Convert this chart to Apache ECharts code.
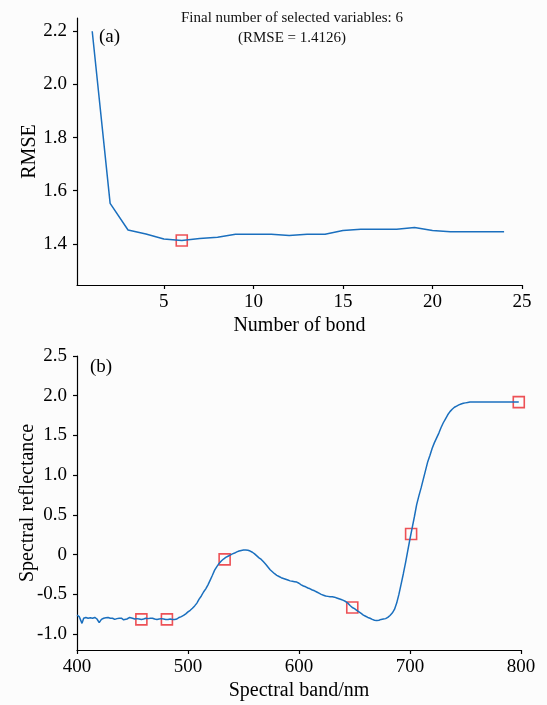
<!DOCTYPE html>
<html>
<head>
<meta charset="utf-8">
<script src="https://cdn.jsdelivr.net/npm/echarts@6/dist/echarts.min.js"></script>
<style>html,body{margin:0;padding:0;background:#fcfcfc;}#c{width:547px;height:705px;}</style>
</head>
<body>
<div id="c"></div>
<script>
// (a) RMSE vs number of bands
const bondNumbers = [1,2,3,4,5,6,7,8,9,10,11,12,13,14,15,16,17,18,19,20,21,22,23,24];
const rmseValues = [2.2,1.552,1.452,1.437,1.418,1.4126,1.42,1.425,1.436,1.436,1.436,1.431,1.436,1.436,1.45,1.455,1.455,1.455,1.461,1.45,1.445,1.445,1.445,1.445];
const selectedBond = [6];
const selectedRmse = [1.4126];
const topXTicks = [5,10,15,20,25];
const topYTicks = [1.4,1.6,1.8,2.0,2.2];

// (b) spectral curve
const wavelengths = [400,402,404.5,406,408,410,412,414,416,418,420,422,424,426,428,430,432,434,436,438,440,442,443.5,445,447.5,450,452,454,456,458,460,462,464,466,468,470,472,474,476,478,480,482,484,486,488,490,492,494,496,498,500,502,504,506,508,510,512,514,516,518,520,522,524,526,528,530,532,534,536,538,540,542,544,546,548,550,552,554,556,558,560,562,564,566,568,570,572,574,576,578,580,582,584,586,588,590,592,594,596,598,600,602,604,606,608,610,612,614,616,618,620,622,624,626,628,630,632,634,636,638,640,642,644,646,648,650,652,654,656,658,660,662,664,666,668,670,672,674,676,678,680,682,684,686,688,690,692,694,696,698,700,702,704,706,708,710,712,714,716,718,720,722,724,726,728,730,732,734,736,738,740,742,744,746,748,750,752,754,760,770,780,790,798];
const reflectance = [-0.76,-0.78,-0.865,-0.80,-0.79,-0.80,-0.795,-0.80,-0.79,-0.81,-0.855,-0.815,-0.80,-0.795,-0.79,-0.80,-0.80,-0.815,-0.805,-0.80,-0.80,-0.82,-0.83,-0.81,-0.79,-0.80,-0.81,-0.805,-0.81,-0.815,-0.81,-0.80,-0.805,-0.80,-0.80,-0.81,-0.815,-0.81,-0.805,-0.81,-0.815,-0.815,-0.81,-0.815,-0.815,-0.81,-0.79,-0.78,-0.765,-0.745,-0.72,-0.70,-0.675,-0.645,-0.61,-0.56,-0.52,-0.47,-0.43,-0.38,-0.32,-0.26,-0.195,-0.15,-0.11,-0.08,-0.055,-0.035,-0.02,-0.005,0.01,0.02,0.035,0.045,0.052,0.058,0.058,0.055,0.045,0.03,0.01,-0.015,-0.04,-0.06,-0.09,-0.12,-0.155,-0.19,-0.215,-0.24,-0.26,-0.275,-0.29,-0.30,-0.31,-0.32,-0.33,-0.335,-0.34,-0.345,-0.36,-0.38,-0.395,-0.405,-0.42,-0.43,-0.445,-0.455,-0.47,-0.485,-0.5,-0.51,-0.52,-0.525,-0.53,-0.53,-0.535,-0.545,-0.555,-0.565,-0.575,-0.59,-0.61,-0.64,-0.665,-0.68,-0.70,-0.72,-0.74,-0.76,-0.775,-0.79,-0.80,-0.815,-0.825,-0.83,-0.825,-0.815,-0.81,-0.805,-0.79,-0.765,-0.735,-0.69,-0.61,-0.50,-0.37,-0.24,-0.10,0.05,0.20,0.34,0.48,0.63,0.74,0.84,0.95,1.06,1.17,1.25,1.34,1.41,1.47,1.53,1.60,1.66,1.71,1.76,1.80,1.83,1.855,1.87,1.885,1.895,1.905,1.91,1.915,1.92,1.92,1.92,1.92,1.92,1.92];
const selectedBands = [458,481,533,648,701,798];
const selectedReflectance = [-0.815,-0.815,-0.06,-0.665,0.26,1.92];
const bottomYTicks = [-1.0,-0.5,0,0.5,1.0,1.5,2.0,2.5];

const FONT = '"Liberation Serif","Times New Roman",serif';
const LINE = '#1a6fbe';
const MARK = '#e8262c';

const zip = (a,b) => a.map((v,i)=>[v,b[i]]);

const axisCommon = {
  axisLine:{show:true,onZero:false,lineStyle:{color:'#000',width:1.2}},
  axisTick:{show:true,inside:false,length:4,lineStyle:{color:'#000',width:1.2}},
  splitLine:{show:false},
  nameTextStyle:{fontFamily:FONT,fontSize:20,color:'#000'},
  nameLocation:'middle',
  nameMoveOverlap:false
};
const labelStyle = {fontFamily:FONT,fontSize:19,color:'#000'};

const chart = echarts.init(document.getElementById('c'));
chart.setOption({
  backgroundColor:'#fcfcfc',
  animation:false,
  title:{
    text:'Final number of selected variables: 6\n(RMSE = 1.4126)',
    left:287, top:3, textAlign:'center',
    textStyle:{fontFamily:FONT,fontSize:15,fontWeight:'normal',color:'#111',lineHeight:20}
  },
  graphic:[
    {type:'text',left:99,top:28,style:{text:'(a)',font:'19px '+FONT,fill:'#000'}},
    {type:'text',left:90,top:358,style:{text:'(b)',font:'19px '+FONT,fill:'#000'}}
  ],
  grid:[
    {left:77,right:25,top:18,bottom:420,containLabel:false},
    {left:77,right:26,top:356,bottom:55,containLabel:false}
  ],
  xAxis:[
    Object.assign({},axisCommon,{
      gridIndex:0,type:'value',min:0.15,max:25,name:'Number of bond',nameGap:31,
      axisTick:Object.assign({},axisCommon.axisTick,{customValues:topXTicks}),
      axisLabel:Object.assign({customValues:topXTicks,margin:8},labelStyle)
    }),
    Object.assign({},axisCommon,{
      gridIndex:1,type:'value',min:400,max:800,interval:100,name:'Spectral band/nm',nameGap:31,
      axisLabel:Object.assign({margin:8,showMinLabel:true,showMaxLabel:true},labelStyle)
    })
  ],
  yAxis:[
    Object.assign({},axisCommon,{
      gridIndex:0,type:'value',min:1.245,max:2.25,name:'RMSE',nameGap:37,
      axisTick:Object.assign({},axisCommon.axisTick,{customValues:topYTicks}),
      axisLabel:Object.assign({customValues:topYTicks,margin:10,formatter:v=>v.toFixed(1)},labelStyle)
    }),
    Object.assign({},axisCommon,{
      gridIndex:1,type:'value',min:-1.2,max:2.5,name:'Spectral reflectance',nameGap:39,
      axisTick:Object.assign({},axisCommon.axisTick,{customValues:bottomYTicks}),
      axisLabel:Object.assign({customValues:bottomYTicks,margin:10,
        formatter:v=>Math.abs(v)<1e-9?'0':v.toFixed(1)},labelStyle)
    })
  ],
  series:[
    {type:'line',xAxisIndex:0,yAxisIndex:0,data:zip(bondNumbers,rmseValues),showSymbol:false,symbol:'none',
      lineStyle:{color:LINE,width:1.5}},
    {type:'scatter',xAxisIndex:0,yAxisIndex:0,data:zip(selectedBond,selectedRmse),symbol:'rect',symbolSize:11,
      itemStyle:{color:'rgba(0,0,0,0)',borderColor:MARK,borderWidth:1.6}},
    {type:'line',xAxisIndex:1,yAxisIndex:1,data:zip(wavelengths,reflectance),showSymbol:false,symbol:'none',
      lineStyle:{color:LINE,width:1.5}},
    {type:'scatter',xAxisIndex:1,yAxisIndex:1,data:zip(selectedBands,selectedReflectance),symbol:'rect',symbolSize:11,
      itemStyle:{color:'rgba(0,0,0,0)',borderColor:MARK,borderWidth:1.6}}
  ]
});
</script>
</body>
</html>
